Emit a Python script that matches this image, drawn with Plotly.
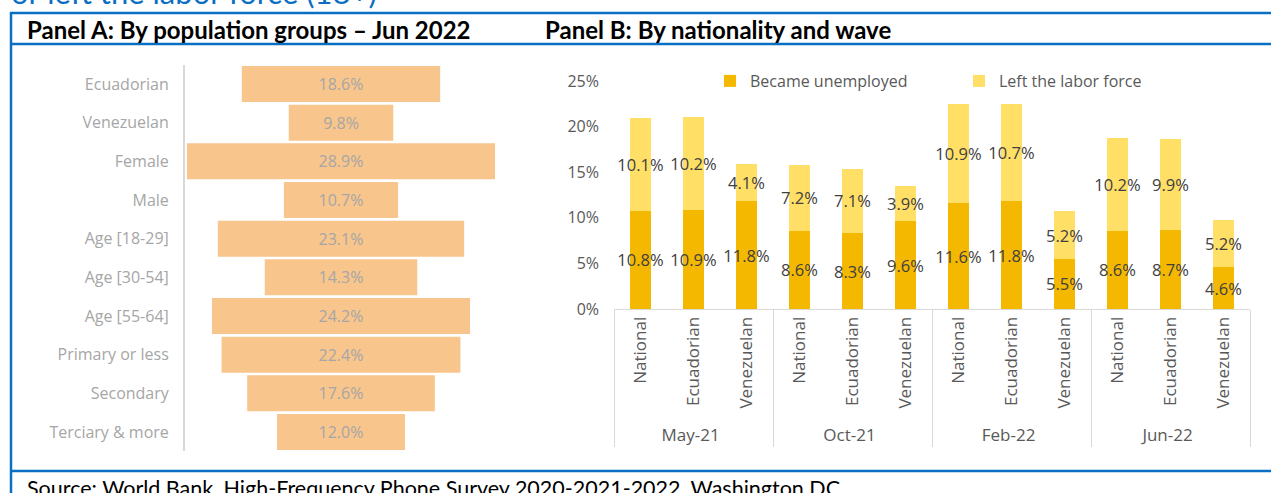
import plotly.graph_objects as go

W, H = 1271, 493

# ---------------- Data ----------------
groups_a = ["Ecuadorian", "Venezuelan", "Female", "Male", "Age [18-29]", "Age [30-54]",
            "Age [55-64]", "Primary or less", "Secondary", "Terciary & more"]
values_a = [18.6, 9.8, 28.9, 10.7, 23.1, 14.3, 24.2, 22.4, 17.6, 12.0]

waves = ["May-21", "Oct-21", "Feb-22", "Jun-22"]
nationalities = ["National", "Ecuadorian", "Venezuelan"]
became_unemployed = [10.8, 10.9, 11.8, 8.6, 8.3, 9.6, 11.6, 11.8, 5.5, 8.6, 8.7, 4.6]
left_labor_force = [10.1, 10.2, 4.1, 7.2, 7.1, 3.9, 10.9, 10.7, 5.2, 10.2, 9.9, 5.2]
y_ticks_b = [0, 5, 10, 15, 20, 25]


def px_x(p):
    return p / W


def px_y(p):
    return 1 - p / H


wave_level = [w for w in waves for _ in nationalities]
nat_level = [n for _ in waves for n in nationalities]

FONT = "Open Sans"
BLUE = "#0A6FC4"

fig = go.Figure()

# Panel A: centred bars (funnel style)
fig.add_trace(go.Funnel(
    y=groups_a, x=values_a,
    xaxis="x", yaxis="y",
    marker=dict(color="#F8C58D", line=dict(width=0)),
    connector=dict(visible=False),
    texttemplate="%{x:.1f}%", textposition="inside", insidetextanchor="middle",
    textfont=dict(family=FONT, size=16, color="#A6A6A6"),
    showlegend=False, hoverinfo="skip",
))

# Panel B: stacked bars
fig.add_trace(go.Bar(
    x=[wave_level, nat_level], y=became_unemployed, name="Became unemployed",
    xaxis="x2", yaxis="y2", marker=dict(color="#F5B800", line=dict(width=0)),
    texttemplate="%{y:.1f}%", textposition="inside", insidetextanchor="middle",
    textangle=0, constraintext="none",
    textfont=dict(family=FONT, size=16.5, color="#404040"),
))
fig.add_trace(go.Bar(
    x=[wave_level, nat_level], y=left_labor_force, name="Left the labor force",
    xaxis="x2", yaxis="y2", marker=dict(color="#FFDF66", line=dict(width=0)),
    texttemplate="%{y:.1f}%", textposition="inside", insidetextanchor="middle",
    textangle=0, constraintext="none",
    textfont=dict(family=FONT, size=16.5, color="#404040"),
))

half = 14.63
fig.update_layout(
    width=W, height=H,
    margin=dict(l=0, r=0, t=0, b=0, autoexpand=False),
    paper_bgcolor="white", plot_bgcolor="white",
    font=dict(family=FONT, color="#595959"),
    barmode="stack", bargap=0.6,
    funnelgap=0.07,
    uniformtext=dict(minsize=16, mode="show"),
    xaxis=dict(domain=[px_x(185), px_x(497)], range=[-half, half], visible=False,
               fixedrange=True, automargin=False),
    yaxis=dict(domain=[px_y(451.3), px_y(64.7)], categoryorder="array", categoryarray=groups_a,
               autorange="reversed", showline=True, linecolor="#D9D9D9", linewidth=2,
               ticks="", ticklabelstandoff=11, showgrid=False, zeroline=False, automargin=False,
               tickfont=dict(family=FONT, size=16, color="#A6A6A6")),
    xaxis2=dict(domain=[px_x(614), px_x(1250)], anchor="y2", type="multicategory",
                tickangle=-90, showline=True, linecolor="#D9D9D9", linewidth=1,
                showdividers=True, dividercolor="#D9D9D9", dividerwidth=1,
                ticks="", showgrid=False, automargin=False,
                tickfont=dict(family=FONT, size=17, color="#595959")),
    yaxis2=dict(domain=[px_y(309), px_y(81)], anchor="x2", range=[0, 25],
                tickvals=y_ticks_b, ticktext=[f"{v}%" for v in y_ticks_b],
                showgrid=False, zeroline=False, showline=False, ticks="",
                ticklabelstandoff=14, automargin=False,
                tickfont=dict(family=FONT, size=16, color="#595959")),
    legend=dict(orientation="h", x=px_x(710), y=px_y(64), xanchor="left", yanchor="top",
                entrywidth=204, entrywidthmode="pixels", itemwidth=30,
                font=dict(family=FONT, size=16, color="#595959"),
                bgcolor="rgba(0,0,0,0)", traceorder="normal"),
    showlegend=True,
)

# Frame lines
line = dict(color=BLUE, width=2.5)
fig.add_shape(type="line", xref="paper", yref="paper", x0=px_x(10), x1=1, y0=px_y(13), y1=px_y(13), line=line)
fig.add_shape(type="line", xref="paper", yref="paper", x0=px_x(10), x1=1, y0=px_y(44), y1=px_y(44), line=line)
fig.add_shape(type="line", xref="paper", yref="paper", x0=px_x(10), x1=1, y0=px_y(471), y1=px_y(471), line=line)
fig.add_shape(type="line", xref="paper", yref="paper", x0=px_x(11), x1=px_x(11), y0=px_y(12), y1=0, line=line)

# Texts
fig.add_annotation(text="or left the labor force (18+)", xref="paper", yref="paper",
                   x=px_x(9), y=px_y(13), xanchor="left", yanchor="bottom", showarrow=False,
                   font=dict(family="Lato", size=31, color=BLUE))
fig.add_annotation(text="<b>Panel A: By population groups – Jun 2022</b>", xref="paper", yref="paper",
                   x=px_x(25), y=px_y(30), xanchor="left", yanchor="middle", showarrow=False,
                   font=dict(family="Lato", size=24, color="black"))
fig.add_annotation(text="<b>Panel B: By nationality and wave</b>", xref="paper", yref="paper",
                   x=px_x(543), y=px_y(30), xanchor="left", yanchor="middle", showarrow=False,
                   font=dict(family="Lato", size=24, color="black"))
fig.add_annotation(text="Source: World Bank, High-Frequency Phone Survey 2020-2021-2022, Washington DC",
                   xref="paper", yref="paper",
                   x=px_x(25), y=px_y(473), xanchor="left", yanchor="top", showarrow=False,
                   font=dict(family="Lato", size=21.5, color="black"))

fig.write_html("out.html", config={"displayModeBar": False},
               post_script="document.body.style.margin='0px';")
